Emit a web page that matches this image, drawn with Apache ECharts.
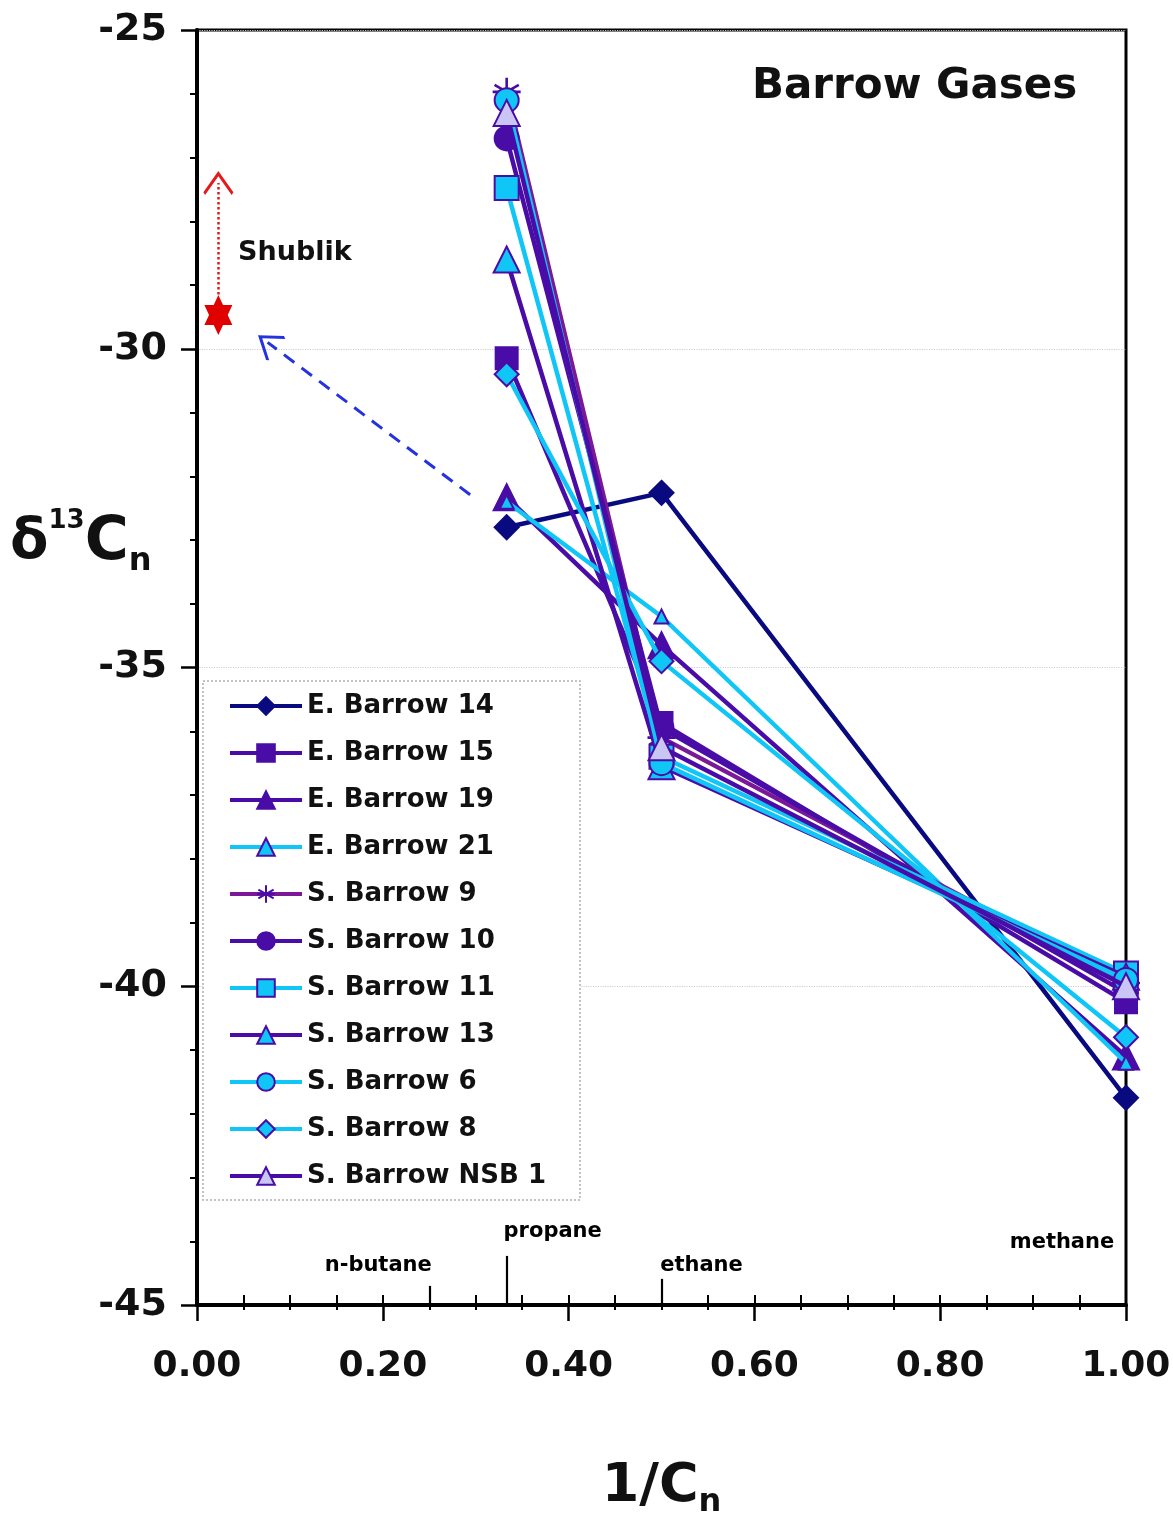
<!DOCTYPE html>
<html>
<head>
<meta charset="utf-8">
<title>Barrow Gases</title>
<script src="https://cdn.jsdelivr.net/npm/echarts@6/dist/echarts.min.js"></script>
<style>
  html, body { margin: 0; padding: 0; background: #fff; }
  #chart { width: 1173px; height: 1514px; }
</style>
</head>
<body>
<div id="chart"></div>
<script>
// Carbon numbers of the gas components; the x axis is 1/Cn
const carbonNumbers = [3, 2, 1];            // propane, ethane, methane
const xValues = carbonNumbers.map(c => 1 / c);

// δ13C values (per mil) for propane, ethane, methane
const seriesNames = [
  'E. Barrow 14', 'E. Barrow 15', 'E. Barrow 19', 'E. Barrow 21',
  'S. Barrow 9', 'S. Barrow 10', 'S. Barrow 11', 'S. Barrow 13',
  'S. Barrow 6', 'S. Barrow 8', 'S. Barrow NSB 1'
];
const eBarrow14 = [-32.80, -32.26, -41.75];
const eBarrow15 = [-30.15, -35.87, -40.25];
const eBarrow19 = [-32.33, -34.65, -41.10];
const eBarrow21 = [-32.40, -34.20, -41.20];
const sBarrow9  = [-25.97, -36.10, -39.95];
const sBarrow10 = [-26.70, -35.95, -40.10];
const sBarrow11 = [-27.48, -36.40, -39.80];
const sBarrow13 = [-28.60, -36.55, -39.85];
const sBarrow6  = [-26.10, -36.50, -39.90];
const sBarrow8  = [-30.40, -34.90, -40.80];
const sBarrowNSB1 = [-26.30, -36.25, -40.00];
const seriesValues = [eBarrow14, eBarrow15, eBarrow19, eBarrow21, sBarrow9,
  sBarrow10, sBarrow11, sBarrow13, sBarrow6, sBarrow8, sBarrowNSB1];

// Shublik source-rock value and the extrapolation arrow
const shublik = [0.023, -29.47];
const shublikArrow = [[0.023, -29.15], [0.023, -27.40]];
const trendArrow = [[0.294, -32.29], [0.076, -29.90]];

// Component markers on the 1/Cn axis
const componentNames = ['n-butane', 'propane', 'ethane', 'methane'];
const componentCarbon = [4, 3, 2, 1];

// Axis ranges and tick steps
const xRange = [0, 1], xStep = 0.2, xMinorStep = 0.05;
const yRange = [-45, -25], yStep = 5;

const FONT = 'DejaVu Sans';
const NAVY = '#0a0a80';
const PURPLE = '#4a0ca6';
const CYAN = '#10c6f6';
const LAVENDER = '#c9c5f5';
const MAGENTA = '#7a1898';

const asterisk = 'path://M0,-10L0,10M-8.66,-5L8.66,5M-8.66,5L8.66,-5M-10,0L10,0';
const hexagram = 'path://M0,-10L2.887,-5L8.66,-5L5.77,0L8.66,5L2.887,5L0,10L-2.887,5L-8.66,5L-5.77,0L-8.66,-5L-2.887,-5Z';
const chevron = 'path://M0,0L15,13L13.3,14.6L0,3.2L-13.3,14.6L-15,13Z';

// Line colour, marker shape, marker fill, marker border, marker size
const styles = [
  [NAVY,    'diamond',  NAVY,     NAVY,   24],
  [PURPLE,  'rect',     PURPLE,   PURPLE, 22],
  [PURPLE,  'triangle', PURPLE,   PURPLE, 26],
  [CYAN,    'triangle', CYAN,     PURPLE, 14],
  [MAGENTA, asterisk,   'none',   PURPLE, 28],
  [PURPLE,  'circle',   PURPLE,   PURPLE, 24],
  [CYAN,    'rect',     CYAN,     PURPLE, 24],
  [PURPLE,  'triangle', CYAN,     PURPLE, 26],
  [CYAN,    'circle',   CYAN,     PURPLE, 24],
  [CYAN,    'diamond',  CYAN,     PURPLE, 24],
  [PURPLE,  'triangle', LAVENDER, PURPLE, 26]
];

const dataSeries = seriesNames.map((name, i) => {
  const [line, symbol, fill, border, size] = styles[i];
  return {
    name,
    type: 'line',
    data: xValues.map((x, k) => [x, seriesValues[i][k]]),
    symbol,
    symbolSize: size,
    clip: false,
    z: 3 + i * 0.01,
    lineStyle: { color: line, width: 4.5 },
    itemStyle: { color: fill === 'none' ? PURPLE : fill, borderColor: border, borderWidth: symbol === asterisk ? 2.6 : 2, opacity: 1 },
    emphasis: { disabled: true }
  };
});

// Longer inner ticks marking the C4, C3 and C2 positions (in axis units)
const tickHeights = { 4: 0.30, 3: 0.77, 2: 0.41 };
const labelOffsets = { 4: [-51, -39], 3: [46, -73], 2: [40, -39], 1: [-64, -62] };

const componentTicks = componentCarbon
  .filter(c => tickHeights[c])
  .map(c => [{ coord: [1 / c, yRange[0]] }, { coord: [1 / c, yRange[0] + tickHeights[c]] }]);

const annotationSeries = [
  {
    name: 'Shublik',
    type: 'scatter',
    data: [shublik],
    symbol: hexagram,
    symbolSize: [28, 40],
    symbolKeepAspect: false,
    itemStyle: { color: '#e00000', opacity: 1 },
    z: 6,
    silent: true,
    markLine: {
      silent: true,
      animation: false,
      label: { show: false },
      data: [
        [
          { coord: shublikArrow[0], symbol: 'none', lineStyle: { color: '#e31a1a', type: 'dotted', width: 2.5 }, itemStyle: { color: '#e31a1a' } },
          { coord: shublikArrow[1], symbol: chevron, symbolSize: [30, 24], itemStyle: { color: '#e31a1a' } }
        ],
        [
          { coord: trendArrow[0], symbol: 'none', lineStyle: { color: '#2432e0', type: [13, 9], width: 3 }, itemStyle: { color: '#2432e0' } },
          { coord: trendArrow[1], symbol: chevron, symbolSize: [30, 24], itemStyle: { color: '#2432e0' } }
        ]
      ]
    }
  },
  {
    name: 'components',
    type: 'scatter',
    data: componentCarbon.map((c, i) => ({ value: [1 / c, yRange[0]], name: componentNames[i],
      label: { offset: labelOffsets[c] } })),
    symbolSize: 1,
    itemStyle: { color: 'rgba(0,0,0,0)', opacity: 1 },
    silent: true,
    z: 6,
    label: {
      show: true,
      position: 'inside',
      formatter: p => p.name,
      fontFamily: FONT,
      fontWeight: 'bold',
      fontSize: 21,
      color: '#000',
      textBorderWidth: 0
    },
    markLine: {
      silent: true,
      animation: false,
      symbol: ['none', 'none'],
      label: { show: false },
      lineStyle: { color: '#000', type: 'solid', width: 2.2 },
      data: componentTicks
    }
  }
];

const chart = echarts.init(document.getElementById('chart'), null, { renderer: 'canvas' });

chart.setOption({
  animation: false,
  backgroundColor: '#fff',
  textStyle: { fontFamily: FONT },
  grid: {
    left: 197, right: 47, top: 30, bottom: 209,
    outerBoundsMode: 'none',
    containLabel: false,
    show: true, borderColor: '#000', borderWidth: 3, backgroundColor: 'transparent'
  },
  xAxis: [
    {
      type: 'value',
      min: xRange[0], max: xRange[1], interval: xStep,
      name: '{a|1/C}{n|n}',
      nameLocation: 'middle',
      nameGap: 150,
      nameTextStyle: {
        rich: {
          a: { fontFamily: FONT, fontWeight: 'bold', fontSize: 54, lineHeight: 64, color: '#111' },
          n: { fontFamily: FONT, fontWeight: 'bold', fontSize: 32, lineHeight: 40, verticalAlign: 'bottom', color: '#111' }
        }
      },
      axisLine: { show: true, onZero: false, lineStyle: { color: '#000', width: 4 } },
      axisTick: { show: true, inside: false, length: 16, lineStyle: { color: '#000', width: 2.5 } },
      minorTick: { show: true, splitNumber: 4, length: 5, lineStyle: { color: '#000', width: 2 } },
      axisLabel: {
        margin: 44,
        fontFamily: FONT, fontWeight: 'bold', fontSize: 36, color: '#111',
        formatter: v => v.toFixed(2)
      },
      splitLine: { show: false }
    },
    {
      type: 'value',
      min: xRange[0], max: xRange[1], interval: xMinorStep,
      position: 'bottom',
      axisLine: { show: false },
      axisTick: { show: true, inside: true, length: 10, lineStyle: { color: '#000', width: 2 } },
      axisLabel: { show: false },
      splitLine: { show: false }
    }
  ],
  yAxis: {
    type: 'value',
    min: yRange[0], max: yRange[1], interval: yStep,
    axisLine: { show: true, onZero: false, lineStyle: { color: '#000', width: 4 } },
    axisTick: { show: true, inside: false, length: 16, lineStyle: { color: '#000', width: 2.5 } },
    minorTick: { show: true, splitNumber: 5, length: 7, lineStyle: { color: '#000', width: 2 } },
    axisLabel: {
      margin: 30,
      fontFamily: FONT, fontWeight: 'bold', fontSize: 38, color: '#111',
      formatter: v => String(v)
    },
    splitLine: { show: true, lineStyle: { color: '#cfcfcf', type: 'dotted', width: 1.2 } }
  },
  legend: {
    data: seriesNames,
    orient: 'vertical',
    left: 228,
    top: 692,
    padding: 0,
    itemWidth: 72,
    itemHeight: 22,
    itemGap: 19,
    selectedMode: false,
    z: 6,
    lineStyle: { width: 4 },
    textStyle: { fontFamily: FONT, fontWeight: 'bold', fontSize: 26, lineHeight: 28, color: '#111' }
  },
  graphic: [
    {
      type: 'rect',
      z: 4,
      silent: true,
      shape: { x: 203, y: 681, width: 377, height: 519 },
      style: { fill: '#fff', stroke: '#b0b0b0', lineWidth: 1.5, lineDash: [2, 2] }
    },
    {
      type: 'text',
      left: 752, top: 66, z: 6, silent: true,
      style: { text: 'Barrow Gases', font: 'bold 42px "DejaVu Sans"', fill: '#111' }
    },
    {
      type: 'text',
      left: 238, top: 239, z: 6, silent: true,
      style: { text: 'Shublik', font: 'bold 27px "DejaVu Sans"', fill: '#111' }
    },
    {
      type: 'text',
      left: 10, top: 508, z: 6, silent: true,
      style: {
        text: '{d|δ}{s|13}{c|C}{b|n}',
        fill: '#111',
        rich: {
          d: { fontFamily: FONT, fontWeight: 'bold', fontSize: 56, lineHeight: 70, fill: '#111' },
          s: { fontFamily: FONT, fontWeight: 'bold', fontSize: 26, lineHeight: 44, verticalAlign: 'top', fill: '#111' },
          c: { fontFamily: FONT, fontWeight: 'bold', fontSize: 60, lineHeight: 70, fill: '#111' },
          b: { fontFamily: FONT, fontWeight: 'bold', fontSize: 32, lineHeight: 40, verticalAlign: 'bottom', fill: '#111' }
        }
      }
    }
  ],
  series: dataSeries.concat(annotationSeries)
});
</script>
</body>
</html>
